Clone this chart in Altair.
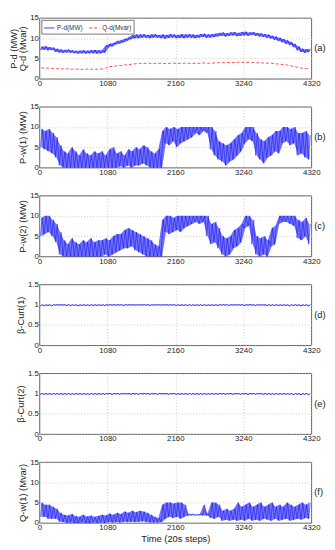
import altair as alt
import pandas as pd

STEP = 60
X_TICKS = [0, 1080, 2160, 3240, 4320]
W, H = 277, 62
FONT = "Liberation Sans"
BLUE = "#0000ff"
RED = "#ff0000"

# ---- panel (a): load demand, envelope (low / high) per 60-step bin ----
pd_lo = [7.1, 7.2, 7.0, 7.1,
         6.6, 6.5, 6.4, 6.5, 6.4, 6.3, 6.2, 6.3, 6.2, 6.3, 6.3, 6.2, 6.3,
         6.5,
         7.8, 8.0, 8.5, 8.7, 9.0, 9.4, 9.8, 10.0,
         10.0, 10.2, 10.1, 10.0, 10.2, 10.1, 10.0, 9.9, 10.1, 10.2, 10.0, 10.1, 10.0, 10.2, 10.1, 10.0, 10.2, 10.3, 10.1, 10.2, 10.3,
         10.5, 10.6, 10.4, 10.6, 10.7, 10.5, 10.6, 10.7, 10.6, 10.8, 10.6, 10.4,
         10.3, 10.1, 9.9, 9.6,
         9.3, 9.0, 8.6, 8.3,
         7.8, 7.0, 6.6, 6.4, 6.6]
pd_hi = [7.9, 8.0, 7.8, 7.7,
         7.4, 7.2, 7.1, 7.2, 7.0, 6.9, 6.9, 7.0, 6.9, 7.0, 7.1, 7.0, 7.0,
         8.2,
         8.6, 8.8, 9.3, 9.5, 9.8, 10.2, 10.7, 10.9,
         10.9, 11.0, 10.8, 10.9, 11.0, 10.8, 10.9, 10.8, 11.0, 10.9, 10.8, 11.0, 10.9, 11.0, 10.9, 10.8, 11.0, 11.1, 10.9, 11.0, 11.1,
         11.3, 11.4, 11.2, 11.4, 11.5, 11.3, 11.5, 11.6, 11.4, 11.5, 11.3, 11.2,
         11.0, 10.9, 10.6, 10.4,
         10.1, 9.8, 9.5, 9.1,
         8.6, 8.0, 7.4, 7.3, 7.4]
qd_val = [2.70, 2.60, 2.65, 2.55,
          2.50, 2.45, 2.40, 2.45, 2.35, 2.40, 2.35, 2.30, 2.40, 2.35, 2.30, 2.35, 2.40,
          2.60,
          3.00, 3.05, 3.20, 3.25, 3.40, 3.45, 3.60, 3.70,
          3.80, 3.75, 3.85, 3.80, 3.75, 3.85, 3.80, 3.75, 3.80, 3.85, 3.75, 3.80, 3.85, 3.80, 3.75, 3.85, 3.80, 3.90, 3.80, 3.85, 3.90,
          3.95, 4.00, 3.95, 4.05, 4.00, 4.05, 4.10, 4.00, 4.05, 4.00, 3.95, 3.90,
          3.90, 3.85, 3.80, 3.70,
          3.60, 3.50, 3.40, 3.20,
          3.00, 2.80, 2.60, 2.50, 2.55]

# ---- panel (b): P-w(1) ----
pw1_lo = [5.0, 4.5, 4.0, 3.5, 2.5,
          0.5,
          0.0, 0.0, 0.0, 0.0, 0.0, 0.0, 0.0, 0.0, 0.0, 0.0,
          0.0, 0.0, 0.0, 0.0, 0.0, 0.3, 0.0, 0.5, 0.0,
          0.5, 0.5, 1.0, 0.5, 0.0, 0.0, 0.0,
          0.0,
          6.0, 5.5, 6.5, 5.0, 6.0, 6.5,
          7.0, 7.5, 8.5, 8.0, 9.0, 8.5,
          4.5, 3.0,
          2.0, 1.5, 0.5, 1.5, 2.0,
          3.0, 4.0,
          6.0, 7.0, 6.5,
          3.0,
          2.0, 1.0, 2.5, 3.0,
          4.0, 3.5,
          6.0, 6.5, 5.5, 6.0,
          3.0, 3.5, 2.5, 2.0]
pw1_hi = [9.5, 9.0, 9.5, 8.5, 7.5,
          5.5,
          4.0, 3.5, 5.0, 4.0, 3.0, 4.5, 3.5, 3.0, 4.0, 3.5,
          4.0, 3.0, 4.5, 5.0, 3.5, 4.0, 3.0, 4.5, 4.0,
          5.0, 4.5, 5.5, 5.0, 4.0, 3.5, 4.5,
          9.0,
          10.0, 9.5, 10.0, 9.5, 10.0, 10.0,
          10.0, 10.0, 10.0, 10.0, 10.0, 10.0,
          10.0, 9.0,
          6.5, 6.0, 5.5, 6.0, 7.0,
          8.0, 8.5,
          10.0, 10.0, 10.0,
          8.5,
          7.0, 6.5, 7.5, 8.0,
          9.0, 9.0,
          10.0, 10.0, 9.5, 10.0,
          8.5, 8.5, 9.0, 8.0]

# ---- panel (c): P-w(2) ----
pw2_lo = [5.0, 5.5, 6.0, 5.0, 3.5,
          0.5,
          0.0, 0.0, 0.0, 0.0, 0.0, 0.0, 0.0, 0.0, 0.0, 0.0,
          0.0, 0.5, 0.0, 0.5, 1.0, 1.5,
          2.0, 2.0, 2.5, 1.5, 1.0,
          0.5, 0.0, 0.0, 0.0, 0.0,
          0.0,
          6.0, 5.5, 6.0, 6.5, 6.0, 7.0,
          7.5, 8.0, 8.5, 8.0, 8.5,
          5.0,
          3.0, 3.5, 2.0,
          0.5, 0.0, 0.5,
          2.0, 2.5, 3.5,
          7.0, 7.5,
          3.0,
          0.5, 0.0, 0.5, 0.0,
          2.5, 3.0,
          8.0, 8.5, 8.5, 8.0, 7.5,
          4.5, 4.0, 5.0, 3.0]
pw2_hi = [9.5, 10.0, 10.0, 9.0, 8.0,
          6.0,
          4.0, 3.0, 4.5, 3.5, 3.0, 4.0, 3.5, 4.5, 3.5, 4.0,
          4.0, 4.5, 4.0, 5.0, 5.5, 5.5,
          6.5, 7.0, 6.5, 6.0, 5.5,
          5.0, 4.5, 4.0, 3.0, 2.5,
          9.0,
          10.0, 10.0, 9.5, 10.0, 10.0, 10.0,
          10.0, 10.0, 10.0, 10.0, 10.0,
          10.0,
          8.0, 8.5, 7.0,
          5.0, 4.5, 5.0,
          6.5, 7.0, 8.0,
          10.0, 10.0,
          9.0,
          5.0, 4.5, 5.0, 4.0,
          7.0, 7.5,
          10.0, 10.0, 10.0, 10.0, 10.0,
          9.0, 8.5, 9.5, 8.0]

# ---- panels (d), (e): curtailment factors ----
beta_max = 1.0
beta1_lo = [0.97, 0.97, 0.98, 0.97, 0.99, 0.99, 0.99, 0.98, 0.98, 0.98, 0.97, 0.98, 0.98, 0.98, 0.98, 0.98, 0.98, 0.98,
            0.99, 0.99, 0.99, 0.99, 0.98, 0.99, 0.99, 0.99, 0.99, 0.99, 0.99, 0.98, 0.99, 0.99, 0.99, 0.99, 0.99, 0.99,
            0.98, 0.98, 0.98, 0.98, 0.98, 0.98, 0.98, 0.98, 0.98, 0.98, 0.98, 0.98, 0.99, 0.99, 0.98, 0.99, 0.99, 0.99,
            0.98, 0.99, 0.99, 0.98, 0.99, 0.99, 0.98, 0.98, 0.98, 0.98, 0.98, 0.98, 0.97, 0.98, 0.98, 0.97, 0.98, 0.97]
beta2_lo = [0.98, 0.98, 0.98, 0.98, 0.98, 0.98, 0.98, 0.98, 0.98, 0.98, 0.98, 0.98, 0.98, 0.98, 0.98, 0.98, 0.98, 0.98,
            0.99, 0.98, 0.99, 0.98, 0.99, 0.99, 0.98, 0.99, 0.98, 0.99, 0.99, 0.98, 0.99, 0.98, 0.99, 0.99, 0.98, 0.99,
            0.98, 0.98, 0.98, 0.98, 0.98, 0.98, 0.98, 0.98, 0.98, 0.98, 0.98, 0.98, 0.99, 0.98, 0.99, 0.98, 0.99, 0.98,
            0.99, 0.98, 0.99, 0.98, 0.99, 0.98, 0.98, 0.98, 0.98, 0.98, 0.98, 0.98, 0.98, 0.97, 0.98, 0.97, 0.98, 0.97]

# ---- panel (f): Q-w(1) ----
qw1_lo = [1.5, 1.5, 1.0, 1.0, 1.0,
          0.3,
          0.2, 0.0, 0.1, 0.0, 0.0, 0.1, 0.0, 0.0, 0.1, 0.0, 0.1, 0.0, 0.2, 0.1, 0.2, 0.1, 0.3, 0.2, 0.3, 0.2, 0.3, 0.4, 0.2, 0.1, 0.1, 0.1,
          0.2,
          1.0, 1.5, 1.2, 1.5, 1.0, 1.5,
          1.8, 1.9, 1.8, 1.9,
          1.8,
          1.8,
          1.2, 1.0, 1.5,
          0.5, 0.8, 0.5, 0.8,
          0.5, 0.8, 0.5, 1.0, 0.5, 0.8, 0.5, 1.0, 0.8, 0.5, 1.0, 0.5, 0.8, 1.0, 0.5, 0.8, 1.0, 0.8, 1.2, 1.0]
qw1_hi = [5.0, 4.5, 4.5, 4.0, 3.5,
          2.5,
          2.0, 1.8, 2.2, 1.7, 1.5, 2.0, 1.6, 1.8, 1.5, 1.7, 2.0, 1.8, 2.3, 2.0, 2.5, 2.2, 2.8, 2.5, 3.0, 2.6, 3.0, 2.8, 2.5, 2.0, 1.5, 1.2,
          4.5,
          5.0, 5.0, 4.8, 5.0, 5.0, 4.5,
          2.2, 2.2, 2.1, 2.2,
          4.5,
          2.3,
          5.0, 5.0, 4.5,
          3.0, 3.5, 3.0, 3.5,
          5.0, 4.0, 4.5, 5.0, 4.0, 4.5, 5.0, 4.0, 4.5, 5.0, 4.0, 4.5, 4.0, 5.0, 4.5, 4.0, 4.5, 5.0, 4.5, 5.0]


def zig(lo, hi, name):
    """Noisy trace: alternate between the low and high value read in each bin."""
    ts, vs = [], []
    for i, (a, b) in enumerate(zip(lo, hi)):
        ts += [i * STEP + 15, i * STEP + 45]
        vs += [a, b]
    return pd.DataFrame({"t": ts, "v": vs, "series": name})


def env(lo, hi):
    return pd.DataFrame({"t": [i * STEP + 30 for i in range(len(lo))], "lo": lo, "hi": hi})


XSCALE = alt.Scale(domain=[0, 4320], nice=False, zero=False)


def x_enc(last=False):
    return alt.X("t:Q", scale=XSCALE,
                 axis=alt.Axis(values=X_TICKS, title="Time (20s steps)" if last else None, format="d"))


def y_enc(field, title, dom, vals, fmt):
    return alt.Y(field, scale=alt.Scale(domain=dom, nice=False),
                 axis=alt.Axis(values=vals, title=title, format=fmt))


def band(lo, hi, title, dom, vals, fmt, last=False, opacity=0.55):
    return alt.Chart(env(lo, hi)).mark_area(color=BLUE, opacity=opacity).encode(
        x=x_enc(last),
        y=y_enc("lo:Q", title, dom, vals, fmt),
        y2="hi:Q",
    )


def side_label(txt):
    return alt.Chart(pd.DataFrame({"lab": [txt]})).mark_text(
        align="left", baseline="middle", fontSize=9.5, font=FONT, color="#222"
    ).encode(text="lab:N", x=alt.value(W + 3), y=alt.value(H / 2))


# panel (a)
qd_df = pd.DataFrame({"t": [i * STEP + 30 for i in range(len(qd_val))], "v": qd_val, "series": "Q-d(Mvar)"})
df_a = pd.concat([zig(pd_lo, pd_hi, "P-d(MW)"), qd_df], ignore_index=True)
leg = alt.Legend(title=None, orient="top-left", direction="horizontal", labelFontSize=6.5, labelFont=FONT,
                 labelColor="#333", symbolType="stroke", symbolSize=110, symbolStrokeWidth=0.8,
                 strokeColor="#777", fillColor="white", padding=2, offset=2, columnPadding=5, labelOffset=2)
series_dom = ["P-d(MW)", "Q-d(Mvar)"]
TITLE_A = ["P-d (MW)", "Q-d (Mvar)"]
line_a = alt.Chart(df_a).mark_line(strokeWidth=0.7).encode(
    x=x_enc(),
    y=y_enc("v:Q", TITLE_A, [0, 15], [0, 5, 10, 15], "d"),
    color=alt.Color("series:N", scale=alt.Scale(domain=series_dom, range=[BLUE, RED]), legend=leg),
    strokeDash=alt.StrokeDash("series:N", scale=alt.Scale(domain=series_dom, range=[[1, 0], [3, 2]]), legend=leg),
)
panel_a = alt.layer(band(pd_lo, pd_hi, TITLE_A, [0, 15], [0, 5, 10, 15], "d", opacity=0.5),
                    line_a, side_label("(a)")).properties(width=W, height=H)


def band_panel(lo, hi, title, lab, last=False):
    dom, vals = [0, 15], [0, 5, 10, 15]
    line = alt.Chart(zig(lo, hi, title)).mark_line(strokeWidth=0.5, color="#0000e0", opacity=0.9).encode(
        x=x_enc(last), y=y_enc("v:Q", title, dom, vals, "d"))
    return alt.layer(band(lo, hi, title, dom, vals, "d", last), line,
                     side_label(lab)).properties(width=W, height=H)


def beta_panel(lo, title, lab):
    line = alt.Chart(zig(lo, [beta_max] * len(lo), title)).mark_line(strokeWidth=0.9, color=BLUE).encode(
        x=x_enc(), y=y_enc("v:Q", title, [0, 1.5], [0, 0.5, 1, 1.5], "~g"))
    return alt.layer(line, side_label(lab)).properties(width=W, height=H)


panel_b = band_panel(pw1_lo, pw1_hi, "P-w(1) (MW)", "(b)")
panel_c = band_panel(pw2_lo, pw2_hi, "P-w(2) (MW)", "(c)")
panel_d = beta_panel(beta1_lo, "β-Curt(1)", "(d)")
panel_e = beta_panel(beta2_lo, "β-Curt(2)", "(e)")
panel_f = band_panel(qw1_lo, qw1_hi, "Q-w(1) (Mvar)", "(f)", last=True)

chart = alt.vconcat(panel_a, panel_b, panel_c, panel_d, panel_e, panel_f, spacing=13.5).properties(
    padding={"left": 0, "top": 0, "right": 0, "bottom": 0},
    background="white",
).configure_view(
    stroke="#333", strokeWidth=0.8
).configure_axis(
    labelFont=FONT, labelFontSize=8, labelColor="#222", labelPadding=1,
    labelFlush=False, labelOverlap=False,
    titleFont=FONT, titleFontSize=9.5, titleFontWeight="normal", titleColor="#222",
    titlePadding=2, titleLineHeight=9.5,
    grid=True, gridColor="#bdbdbd", gridDash=[1, 2], gridWidth=0.8,
    domain=False, ticks=False,
)

chart.save("out.html", embed_options={"renderer": "svg", "actions": False})
